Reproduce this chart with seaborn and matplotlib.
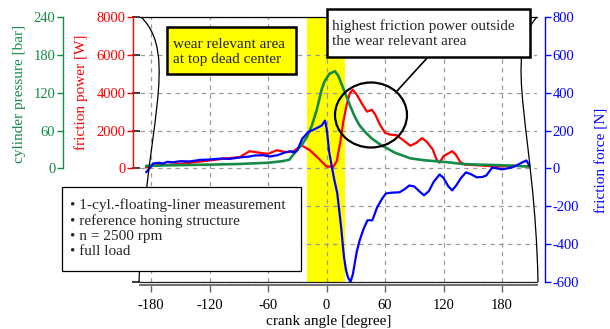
import matplotlib
matplotlib.use("Agg")
import matplotlib.pyplot as plt
import seaborn as sns
from matplotlib.patches import Rectangle, Ellipse, PathPatch
from matplotlib.path import Path

# ---------------- data ----------------
pressure_angle = [-185, -160, -120, -90, -60, -45, -38, -31, -25, -20, -15, -10, -5, -2,
                  3, 8.7, 12, 19, 24, 29, 34, 39.5, 46, 55, 62, 70, 86, 100, 123, 140, 157, 180, 208]
pressure_bar = [4, 5, 6, 7, 9, 11.5, 14, 28, 38, 50, 68, 93, 125, 138,
                150, 154, 147, 120, 100, 82, 68, 58, 48, 38, 32, 25, 16, 13, 10, 7, 6, 5, 3]

power_angle = [-185, -178, -170, -158, -140, -120, -106, -89, -79, -68, -60, -51, -41, -34, -27,
               -25, -17, -7, 0, 7, 10.5, 14, 17, 21, 24, 27, 31, 36, 41.5, 46.5, 50, 55, 60, 65,
               72, 80, 86, 92, 98, 103, 109, 113, 116, 120, 129, 133, 137, 142, 150, 160, 175,
               190, 200, 208]
power_w = [50, 150, 180, 200, 300, 420, 510, 600, 910, 825, 770, 960, 860, 900, 1170,
           1200, 960, 470, 100, 90, 385, 1350, 2400, 3450, 3980, 4150, 3900, 3450, 3000, 3100,
           2840, 2300, 1880, 1790, 1750, 1440, 1200, 1350, 1600, 1400, 1000, 450, 300, 650, 910,
           700, 350, 200, 180, 150, 90, 150, 130, 100]

force_angle = [-185, -180, -178, -172, -168, -163, -158, -150, -140, -130, -120, -107, -100, -89,
               -80, -74, -65, -58, -50, -43, -37, -33, -30, -25, -19, -12, -5, -1.5, 0.5, 2.5,
               5.5, 8, 11, 13, 15, 17, 18, 20, 22, 24.6, 27, 29, 31, 34, 38, 42, 47, 52, 57, 61,
               67, 75, 80, 85, 90, 95, 100, 105, 110, 116, 120, 125, 129, 133, 138, 143, 148,
               154, 160, 164, 170, 175, 180, 185, 190, 195, 200, 205, 208]
force_n = [-20, 10, 26, 30, 26, 35, 32, 38, 37, 45, 47, 53, 50, 58,
           62, 68, 70, 63, 70, 84, 91, 84, 95, 156, 191, 208, 226, 253, 200, 95,
           7, -60, -130, -220, -310, -420, -470, -537, -575, -600, -560, -500, -440, -380, -320,
           -274, -274, -205, -160, -132, -128, -126, -110, -90, -95, -120, -142, -120, -70, -32,
           -50, -95, -116, -90, -50, -21, -30, -47, -45, -37, 5, 0, -5, 0, 5, 16, 30, 42, 16]

x_ticks = [-180, -120, -60, 0, 60, 120, 180]
pressure_ticks = [0, 60, 120, 180, 240]
power_ticks = [0, 2000, 4000, 6000, 8000]
force_ticks = [-600, -400, -200, 0, 200, 400, 600, 800]

wear_band = (-20.5, 18.5)

GREEN = "#168a47"
RED = "#ff0000"
BLUE = "#0000ff"

sns.set_theme(style="white")
plt.rcParams["font.family"] = ["Liberation Serif", "DejaVu Serif"]

W, H = 610, 329
fig = plt.figure(figsize=(W / 100, H / 100), dpi=100)
L, R, T, B = 140, 537, 17, 282
ax = fig.add_axes([L / W, (H - B) / H, (R - L) / W, (B - T) / H])


def axc(px, py):
    return ((px - L) / (R - L), (B - py) / (B - T))


# base axis: grid, wear band, crank-angle axis
ax.set_xlim(-191.3, 215.9)
ax.set_ylim(-600, 800)
ax.set_yticks(force_ticks)
ax.set_xticks(x_ticks)
ax.set_xticklabels([str(v) for v in x_ticks])
ax.set_axisbelow(True)
ax.grid(True, color="#9a9a9a", linestyle=(0, (3.5, 3.5)), linewidth=0.9)
ax.axvspan(*wear_band, color="#ffff00", zorder=0.2, lw=0)
ax.tick_params(axis="y", left=False, right=False, labelleft=False)
ax.tick_params(axis="x", bottom=True, direction="out", length=5, width=1,
               color="#666666", labelsize=10.5, labelcolor="black", pad=5.5)
for s in ["left", "right", "top"]:
    ax.spines[s].set_visible(False)
ax.spines["bottom"].set_position(("outward", 2))
ax.spines["bottom"].set_color("#707070")
ax.spines["bottom"].set_linewidth(1.4)
ax.patch.set_alpha(0)

# friction power (red)
ax_r = ax.twinx()
sns.lineplot(x=power_angle, y=power_w, ax=ax_r, color=RED, linewidth=1.6, zorder=3)
ax_r.set_ylim(-6000, 8000)

# cylinder pressure (green)
ax_g = ax.twinx()
sns.lineplot(x=pressure_angle, y=pressure_bar, ax=ax_g, color=GREEN, linewidth=1.9, zorder=3)
ax_g.set_ylim(-180, 240)

# friction force (blue)
ax_b = ax.twinx()
sns.lineplot(x=force_angle, y=force_n, ax=ax_b, color=BLUE, linewidth=1.6, zorder=3)
ax_b.set_ylim(-600, 800)

for a in (ax_r, ax_g, ax_b):
    for s in ["left", "right", "top", "bottom"]:
        a.spines[s].set_visible(False)
    a.set_xlim(-191.3, 215.9)
    a.set_xlabel("")
    a.set_ylabel("")

# left axes
for a, ticks, pos, col, top in ((ax_r, power_ticks, (133 - L) / (R - L), RED, 8000),
                                (ax_g, pressure_ticks, (63 - L) / (R - L), GREEN, 240)):
    a.yaxis.set_ticks_position("left")
    a.spines["left"].set_visible(True)
    a.spines["left"].set_position(("axes", pos))
    a.spines["left"].set_bounds(0, top)
    a.spines["left"].set_color(col)
    a.spines["left"].set_linewidth(1.0)
    a.set_yticks(ticks)
    a.set_yticklabels([str(v) for v in ticks])
    a.tick_params(axis="y", left=True, right=False, labelleft=True, labelright=False,
                  direction="out", length=4.5, width=1, colors=col, labelsize=10.5, pad=1)

# right axis
ax_b.yaxis.set_ticks_position("right")
ax_b.spines["right"].set_visible(True)
ax_b.spines["right"].set_position(("axes", (545 - L) / (R - L)))
ax_b.spines["right"].set_color(BLUE)
ax_b.spines["right"].set_linewidth(1.0)
ax_b.set_yticks(force_ticks)
ax_b.set_yticklabels([str(v) for v in force_ticks])
ax_b.tick_params(axis="y", right=True, left=False, labelright=True, labelleft=False,
                 direction="out", length=4.5, width=1, colors=BLUE, labelsize=10.5, pad=1)

# axis titles
fig.text(20 / W, 1 - 94 / H, "cylinder pressure [bar]", rotation=90, ha="center", va="center",
         color=GREEN, fontsize=11)
fig.text(81 / W, 1 - 92 / H, "friction power [W]", rotation=90, ha="center", va="center",
         color=RED, fontsize=11)
fig.text(602 / W, 1 - 160 / H, "friction force [N]", rotation=90, ha="center", va="center",
         color=BLUE, fontsize=11)
fig.text(329 / W, 1 - 322 / H, "crank angle [degree]", ha="center", va="center",
         color="black", fontsize=11)

tr = ax_b.transAxes

# decorative frame: top line, bottom line, curved sides
ax_b.plot([0, 1], [1, 1], transform=tr, color="black", lw=0.9, clip_on=False, zorder=5)
ax_b.plot([0, 1], [0, 0], transform=tr, color="#222222", lw=0.9, clip_on=False, zorder=5)
left_pts = [axc(141, 17), axc(180, 55), axc(145, 130), axc(139, 282)]
right_pts = [axc(537, 17), axc(502, 55), axc(535, 130), axc(538, 282)]
for pts in (left_pts, right_pts):
    p = Path(pts, [Path.MOVETO, Path.CURVE4, Path.CURVE4, Path.CURVE4])
    ax_b.add_patch(PathPatch(p, transform=tr, fill=False, ec="black", lw=0.9,
                             clip_on=False, zorder=6))

# wear relevant area box
x0, y0 = axc(167, 74)
x1, y1 = axc(296, 27)
ax_b.add_patch(Rectangle((x0, y0), x1 - x0, y1 - y0, transform=tr, fc="#ffff00", ec="black",
                         lw=1.8, clip_on=False, zorder=10))
tx, ty = axc(173, 52)
ax_b.text(tx, ty, "wear relevant area\nat top dead center", transform=tr, ha="left", va="center",
          fontsize=11, linespacing=1.2, zorder=11)

# highest friction power box
x0, y0 = axc(327, 57)
x1, y1 = axc(530, 9)
ax_b.add_patch(Rectangle((x0, y0), x1 - x0, y1 - y0, transform=tr, fc="white", ec="black",
                         lw=1.8, clip_on=False, zorder=10))
tx, ty = axc(332, 34)
ax_b.text(tx, ty, "highest friction power outside\nthe wear relevant area", transform=tr,
          ha="left", va="center", fontsize=11, linespacing=1.2, zorder=11, clip_on=False)

# ellipse + connector
cx, cy = axc(371, 115)
ax_b.add_patch(Ellipse((cx, cy), 72 / (R - L), 65 / (B - T), transform=tr, fill=False,
                       ec="black", lw=1.6, zorder=9))
p0 = axc(397, 91)
p1 = axc(428, 57)
ax_b.plot([p0[0], p1[0]], [p0[1], p1[1]], transform=tr, color="black", lw=1.2, zorder=9)

# conditions box
x0, y0 = axc(62, 271)
x1, y1 = axc(301, 187)
ax_b.add_patch(Rectangle((x0, y0), x1 - x0, y1 - y0, transform=tr, fc="white", ec="black",
                         lw=0.9, clip_on=False, zorder=10))
tx, ty = axc(70, 228.5)
ax_b.text(tx, ty, "\u2022 1-cyl.-floating-liner measurement\n\u2022 reference honing structure\n"
          "\u2022 n = 2500 rpm\n\u2022 full load", transform=tr, ha="left", va="center",
          fontsize=11, linespacing=1.2, zorder=11, clip_on=False)

fig.savefig("out.png", dpi=100)
